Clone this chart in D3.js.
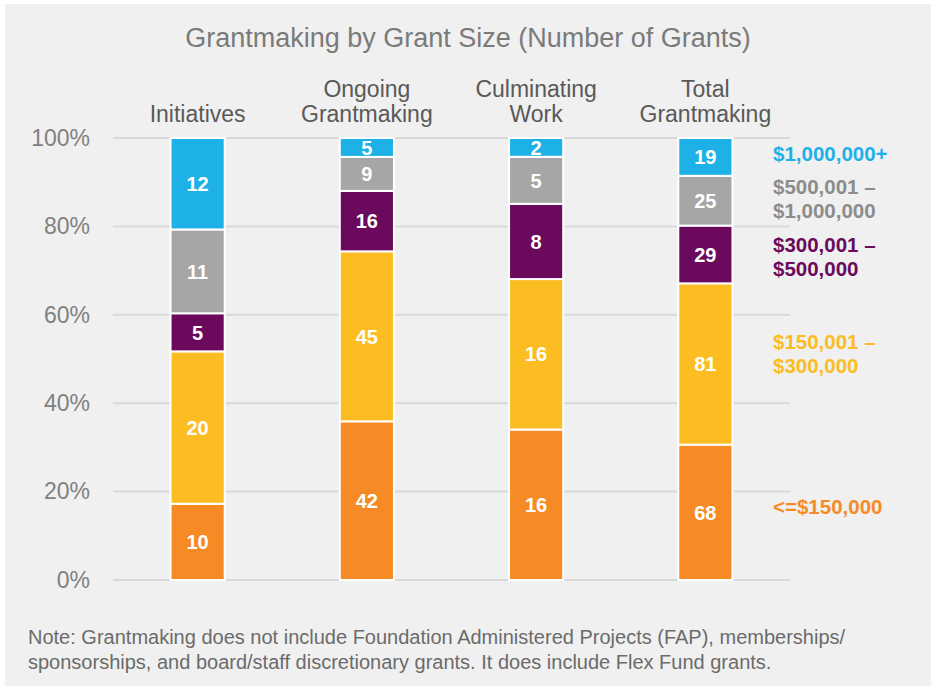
<!DOCTYPE html>
<html>
<head>
<meta charset="utf-8">
<script src="https://cdn.jsdelivr.net/npm/d3@7"></script>
<style>
  body { margin: 0; background: #fff; }
  svg { display: block; }
</style>
</head>
<body>
<svg id="chart"></svg>
<script>
// Base SVG values
let width = 938
let height = 691

// categories and series (bottom to top)
let categories = [["Initiatives"], ["Ongoing", "Grantmaking"], ["Culminating", "Work"], ["Total", "Grantmaking"]]
let sizeKeys = ["lt150", "s150", "s300", "s500", "s1m"]
let sizeLabels = [["<=$150,000"], ["$150,001 –", "$300,000"], ["$300,001 –", "$500,000"], ["$500,001 –", "$1,000,000"], ["$1,000,000+"]]
let sizeColors = ["#f68b26", "#fbbd22", "#6b0a5c", "#a6a6a6", "#1eb1e7"]
let legendColors = ["#f68b26", "#fbbd22", "#6b0a5c", "#8c8c8c", "#1eb1e7"]

let lt150 = [10, 42, 16, 68]
let s150 = [20, 45, 16, 81]
let s300 = [5, 16, 8, 29]
let s500 = [11, 9, 5, 25]
let s1m = [12, 5, 2, 19]

let yTicks = [0, 0.2, 0.4, 0.6, 0.8, 1]

let padding = { left: 113, right: 148, top: 138, bottom: 111 }

// build table
let series = { lt150: lt150, s150: s150, s300: s300, s500: s500, s1m: s1m }
let data = categories.map((c, i) => {
  let row = { cat: c.join(" ") }
  sizeKeys.forEach(k => row[k] = series[k][i])
  return row
})

let stack = d3.stack().keys(sizeKeys).offset(d3.stackOffsetExpand)
let layers = stack(data)

let xScale = d3.scaleBand()
  .domain(data.map(d => d.cat))
  .range([padding.left, width - padding.right])
  .paddingInner(0.68)
  .paddingOuter(0.34)

let yScale = d3.scaleLinear()
  .domain([0, 1])
  .range([height - padding.bottom, padding.top])

let svg = d3.select("#chart")
  .attr("width", width)
  .attr("height", height)

// panel
svg.append("rect")
  .attr("x", 5).attr("y", 4)
  .attr("width", 926).attr("height", 682)
  .attr("fill", "#f0f0f0")

// title
svg.append("text")
  .attr("x", 468).attr("y", 47)
  .attr("text-anchor", "middle")
  .style("font-family", "'Liberation Sans Narrow', 'Arial Narrow', sans-serif")
  .style("font-size", "27px")
  .attr("fill", "#7a7a7a")
  .text("Grantmaking by Grant Size (Number of Grants)")

// gridlines
svg.append("g")
  .selectAll("line")
  .data(yTicks)
  .enter()
  .append("line")
    .attr("x1", padding.left)
    .attr("x2", width - padding.right)
    .attr("y1", d => yScale(d))
    .attr("y2", d => yScale(d))
    .attr("stroke", "#d9d9d9")
    .attr("stroke-width", 2)

// y axis
let axisL = d3.axisLeft(yScale)
  .tickValues(yTicks)
  .tickFormat(d3.format(".0%"))
  .tickSize(0)
  .tickPadding(23)

let gy = svg.append("g")
  .attr("transform", `translate(${padding.left},0)`)
  .call(axisL)
gy.select(".domain").remove()
gy.selectAll("text")
  .style("font-family", "'Liberation Sans', Arial, sans-serif")
  .style("font-size", "23px")
  .attr("fill", "#808080")

// bars
let groups = svg.append("g")
  .selectAll("g")
  .data(layers)
  .enter()
  .append("g")
    .attr("fill", (d, i) => sizeColors[i])

groups.selectAll("rect")
  .data(d => d)
  .enter()
  .append("rect")
    .attr("x", d => xScale(d.data.cat))
    .attr("width", xScale.bandwidth())
    .attr("y", d => yScale(d[1]))
    .attr("height", d => yScale(d[0]) - yScale(d[1]))
    .attr("stroke", "#ffffff")
    .attr("stroke-width", 2)

// values in bars
layers.forEach(layer => {
  svg.append("g")
    .selectAll("text")
    .data(layer)
    .enter()
    .append("text")
      .attr("x", d => xScale(d.data.cat) + xScale.bandwidth() / 2)
      .attr("y", d => (yScale(d[0]) + yScale(d[1])) / 2)
      .attr("dy", "0.36em")
      .attr("text-anchor", "middle")
      .style("font-family", "'Liberation Sans', Arial, sans-serif")
      .style("font-size", "20px")
      .style("font-weight", "bold")
      .attr("fill", "#ffffff")
      .text(d => d.data[layer.key])
})

// category labels
categories.forEach((c, i) => {
  let cx = xScale(data[i].cat) + xScale.bandwidth() / 2
  let t = svg.append("text")
    .attr("text-anchor", "middle")
    .style("font-family", "'Liberation Sans Narrow', 'Arial Narrow', sans-serif")
    .style("font-size", "23px")
    .attr("fill", "#595959")
  c.forEach((line, j) => {
    t.append("tspan")
      .attr("x", cx)
      .attr("y", 122 - (c.length - 1 - j) * 25)
      .text(line)
  })
})

// legend labels beside the total column
let lastLayer = layers.map(l => l[l.length - 1])
let legendOffsets = [-6, -10, 2, -2, -3]
lastLayer.forEach((seg, i) => {
  let lines = sizeLabels[i]
  let mid = (yScale(seg[0]) + yScale(seg[1])) / 2 + legendOffsets[i]
  let t = svg.append("text")
    .style("font-family", "'Liberation Sans', Arial, sans-serif")
    .style("font-size", "20.5px")
    .style("font-weight", "bold")
    .attr("fill", legendColors[i])
  lines.forEach((line, j) => {
    t.append("tspan")
      .attr("x", 773)
      .attr("y", mid + (j - (lines.length - 1) / 2) * 24)
      .attr("dy", "0.36em")
      .text(line)
  })
})

// note
let note = ["Note: Grantmaking does not include Foundation Administered Projects (FAP), memberships/",
            "sponsorships, and board/staff discretionary grants. It does include Flex Fund grants."]
let nt = svg.append("text")
  .style("font-family", "'Liberation Sans Narrow', 'Arial Narrow', sans-serif")
  .style("font-size", "20px")
  .attr("fill", "#6b6b6b")
note.forEach((line, j) => {
  nt.append("tspan")
    .attr("x", 28)
    .attr("y", 644 + j * 25)
    .text(line)
})
</script>
</body>
</html>
